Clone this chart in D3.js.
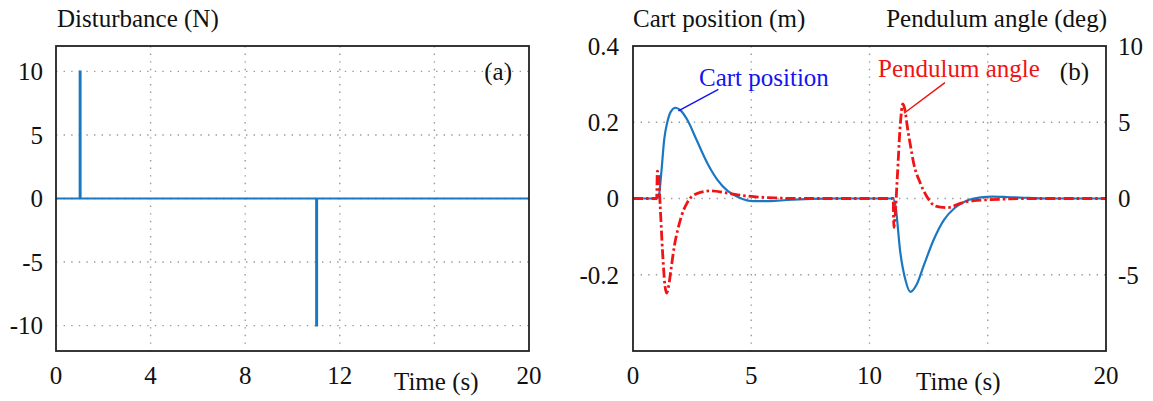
<!DOCTYPE html>
<html>
<head>
<meta charset="utf-8">
<script src="https://cdn.jsdelivr.net/npm/d3@7"></script>
<style>
  body { margin: 0; background: #fff; }
</style>
</head>
<body>
<div id="chart"></div>
<script>
// ---- data ----
// (a) disturbance force, N
const distTime  = [0, 1.0, 1.001, 1.04, 1.041, 11.0, 11.001, 11.04, 11.041, 20];
const distValue = [0, 0, 10, 10, 0, 0, -10, -10, 0, 0];

// (b) cart position, m
const cartTime  = [0, 1.0, 1.1, 1.2, 1.32, 1.45, 1.6, 1.8, 2.0, 2.3, 2.7, 3.15, 3.57, 4.0, 4.5, 5.1, 5.8, 6.5, 7.5, 8.5,
                   11.0, 11.1, 11.3, 11.52, 11.73, 12.0, 12.3, 12.7, 13.15, 13.6, 14.1, 14.7, 15.2, 15.8, 16.5, 17.5, 20];
const cartValue = [0, 0, 0.01, 0.07, 0.155, 0.2, 0.228, 0.238, 0.232, 0.206, 0.152, 0.092, 0.049, 0.02, 0.002, -0.007, -0.007, -0.004, -0.001, 0,
                   0, -0.02, -0.14, -0.214, -0.245, -0.225, -0.175, -0.11, -0.056, -0.025, -0.006, 0.003, 0.005, 0.004, 0.002, 0, 0];

// (b) pendulum angle, deg
const angleTime  = [0, 1.0, 1.03, 1.08, 1.15, 1.25, 1.35, 1.42, 1.5, 1.62, 1.75, 1.9, 2.05, 2.3, 2.7, 3.3, 4.0, 4.6, 5.1, 6.0, 7.0,
                    11.0, 11.03, 11.08, 11.18, 11.3, 11.41, 11.5, 11.6, 11.74, 11.87, 12.15, 12.43, 12.71, 13.0, 13.3, 13.84, 14.4, 15.1, 15.7, 16.5, 20];
const angleValue = [0, 0, 1.8, 1.5, -0.5, -3.5, -5.7, -6.2, -5.8, -4.5, -3.1, -2.0, -1.15, -0.25, 0.32, 0.5, 0.35, 0.2, 0.12, 0.04, 0,
                    0, -1.9, -1.2, 1.5, 4.8, 6.2, 5.8, 4.7, 3.4, 2.3, 1.0, 0.12, -0.43, -0.57, -0.6, -0.32, -0.14, -0.08, -0.04, 0, 0];

const distTicksX = [0, 4, 8, 12, 20];
const distGridX  = [4, 8, 12, 16];
const distTicksY = [10, 5, 0, -5, -10];
const rightTicksX = [0, 5, 10, 20];
const rightGridX  = [5, 10, 15];
const cartTicksY  = [0.4, 0.2, 0, -0.2];
const cartGridY   = [0.2, 0, -0.2];
const angleTicksY = [10, 5, 0, -5];

const zip = (t, v) => t.map((d, i) => ({ t: d, v: v[i] }));

const W = 1153, H = 401;
const svg = d3.select('#chart').append('svg')
    .attr('width', W)
    .attr('height', H)
    .attr('font-family', '"Liberation Serif", "DejaVu Serif", "Times New Roman", serif')
    .attr('font-size', 25)
    .attr('fill', '#111');

const plotTop = 46, plotBottom = 351;
const gridColor = '#999';
const blue = '#1a78c2';
const red = '#f01414';

// ---- panel (a) ----
const xa = d3.scaleLinear().domain([0, 20]).range([56, 529]);
const ya = d3.scaleLinear().domain([-12, 12]).range([plotBottom, plotTop]);

const ga = svg.append('g');

ga.selectAll('.gx').data(distGridX).enter().append('line')
    .attr('x1', d => xa(d)).attr('x2', d => xa(d))
    .attr('y1', plotTop).attr('y2', plotBottom)
    .attr('stroke', gridColor).attr('stroke-width', 1.4).attr('stroke-dasharray', '1.4,6.2');
ga.selectAll('.gy').data(distTicksY).enter().append('line')
    .attr('x1', xa(0)).attr('x2', xa(20))
    .attr('y1', d => ya(d)).attr('y2', d => ya(d))
    .attr('stroke', gridColor).attr('stroke-width', 1.4).attr('stroke-dasharray', '1.4,6.2');

ga.append('path')
    .datum(zip(distTime, distValue))
    .attr('fill', 'none')
    .attr('stroke', blue)
    .attr('stroke-width', 2)
    .attr('d', d3.line().x(d => xa(d.t)).y(d => ya(d.v)));

ga.append('rect')
    .attr('x', xa(0)).attr('y', plotTop)
    .attr('width', xa(20) - xa(0)).attr('height', plotBottom - plotTop)
    .attr('fill', 'none').attr('stroke', '#222').attr('stroke-width', 1.8);

ga.selectAll('.ly').data(distTicksY).enter().append('text')
    .attr('x', 43).attr('y', d => ya(d)).attr('dy', '0.35em')
    .attr('text-anchor', 'end')
    .text(d => d);
ga.selectAll('.lx').data(distTicksX).enter().append('text')
    .attr('x', d => xa(d)).attr('y', 384)
    .attr('text-anchor', 'middle')
    .text(d => d);
ga.append('text').attr('x', 394).attr('y', 390).text('Time (s)');
ga.append('text').attr('x', 57).attr('y', 27).text('Disturbance (N)');
ga.append('text').attr('x', xa(20) - 17).attr('y', 80).attr('text-anchor', 'end').text('(a)');

// ---- panel (b) ----
const xb = d3.scaleLinear().domain([0, 20]).range([633, 1106]);
const yb = d3.scaleLinear().domain([-0.4, 0.4]).range([plotBottom, plotTop]);
const yr = d3.scaleLinear().domain([-10, 10]).range([plotBottom, plotTop]);

const gb = svg.append('g');

gb.selectAll('.gx').data(rightGridX).enter().append('line')
    .attr('x1', d => xb(d)).attr('x2', d => xb(d))
    .attr('y1', plotTop).attr('y2', plotBottom)
    .attr('stroke', gridColor).attr('stroke-width', 1.4).attr('stroke-dasharray', '1.4,6.2');
gb.selectAll('.gy').data(cartGridY).enter().append('line')
    .attr('x1', xb(0)).attr('x2', xb(20))
    .attr('y1', d => yb(d)).attr('y2', d => yb(d))
    .attr('stroke', gridColor).attr('stroke-width', 1.4).attr('stroke-dasharray', '1.4,6.2');

gb.append('path')
    .datum(zip(cartTime, cartValue))
    .attr('fill', 'none')
    .attr('stroke', blue)
    .attr('stroke-width', 2.2)
    .attr('d', d3.line().curve(d3.curveMonotoneX).x(d => xb(d.t)).y(d => yb(d.v)));

gb.append('path')
    .datum(zip(angleTime, angleValue))
    .attr('fill', 'none')
    .attr('stroke', red)
    .attr('stroke-width', 2.8)
    .attr('stroke-dasharray', '10,3,2.5,3')
    .attr('d', d3.line().curve(d3.curveMonotoneX).x(d => xb(d.t)).y(d => yr(d.v)));

gb.append('rect')
    .attr('x', xb(0)).attr('y', plotTop)
    .attr('width', xb(20) - xb(0)).attr('height', plotBottom - plotTop)
    .attr('fill', 'none').attr('stroke', '#222').attr('stroke-width', 1.8);

gb.selectAll('.ly').data(cartTicksY).enter().append('text')
    .attr('x', 619).attr('y', d => yb(d)).attr('dy', '0.35em')
    .attr('text-anchor', 'end')
    .text(d => d);
gb.selectAll('.ry').data(angleTicksY).enter().append('text')
    .attr('x', 1118).attr('y', d => yr(d)).attr('dy', '0.35em')
    .text(d => d);
gb.selectAll('.lx').data(rightTicksX).enter().append('text')
    .attr('x', d => xb(d)).attr('y', 384)
    .attr('text-anchor', 'middle')
    .text(d => d);
gb.append('text').attr('x', 916).attr('y', 390).text('Time (s)');
gb.append('text').attr('x', 633).attr('y', 27).text('Cart position (m)');
gb.append('text').attr('x', 1107).attr('y', 27).attr('text-anchor', 'end').text('Pendulum angle (deg)');
gb.append('text').attr('x', xb(20) - 17).attr('y', 80).attr('text-anchor', 'end').text('(b)');

// annotations
gb.append('line')
    .attr('x1', xb(1.92)).attr('y1', yb(0.23))
    .attr('x2', xb(3.61)).attr('y2', yb(0.286))
    .attr('stroke', '#1414f0').attr('stroke-width', 1.5);
gb.append('text')
    .attr('x', xb(2.79)).attr('y', yb(0.295))
    .attr('fill', '#1414f0')
    .text('Cart position');

gb.append('line')
    .attr('x1', xb(11.46)).attr('y1', yr(5.59))
    .attr('x2', xb(13.19)).attr('y2', yr(7.6))
    .attr('stroke', red).attr('stroke-width', 1.5);
gb.append('text')
    .attr('x', xb(10.36)).attr('y', yr(7.97))
    .attr('fill', red)
    .text('Pendulum angle');
</script>
</body>
</html>
